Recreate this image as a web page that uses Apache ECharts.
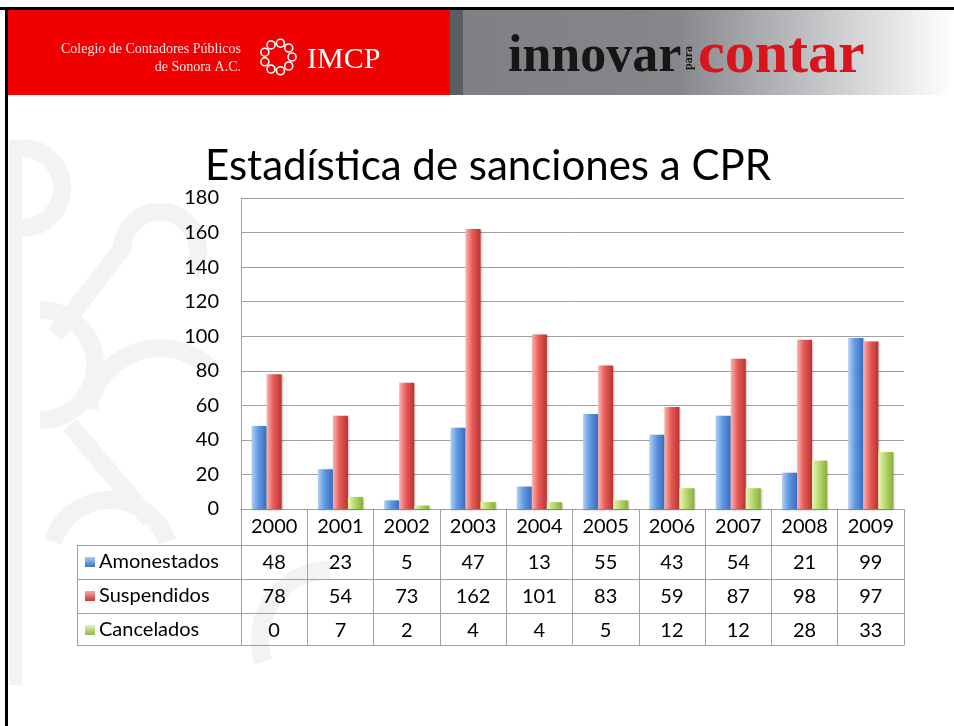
<!DOCTYPE html>
<html>
<head>
<meta charset="utf-8">
<script src="https://cdn.jsdelivr.net/npm/echarts@6/dist/echarts.min.js"></script>
<style>
html,body{margin:0;padding:0;background:#fff;}
#main{width:954px;height:726px;}
</style>
</head>
<body>
<div id="main"></div>
<script>
var years = ['2000','2001','2002','2003','2004','2005','2006','2007','2008','2009'];
var amonestados = [48, 23, 5, 47, 13, 55, 43, 54, 21, 99];
var suspendidos = [78, 54, 73, 162, 101, 83, 59, 87, 98, 97];
var cancelados = [0, 7, 2, 4, 4, 5, 12, 12, 28, 33];
var seriesNames = ['Amonestados', 'Suspendidos', 'Cancelados'];
var yTicks = {min: 0, max: 180, interval: 20};

var chart = echarts.init(document.getElementById('main'));
var FONT = 'Lato';
var GRID = '#a0a0a0';

function hgrad(c1, c2, c3) {
  return new echarts.graphic.LinearGradient(0, 0, 1, 0, [
    {offset: 0, color: c1}, {offset: 0.45, color: c2}, {offset: 1, color: c3}
  ]);
}
var colors = [
  hgrad('#aed0f7', '#5f98e0', '#3a6cc0'),
  hgrad('#fab4b2', '#e85a56', '#b83431'),
  hgrad('#eaf7b8', '#b8d96c', '#8aae3e')
];

function rowAxis(values, offset) {
  return {
    type: 'category', gridIndex: 0, position: 'bottom', offset: offset,
    data: values.map(String),
    axisLine: {show: true, lineStyle: {color: GRID, width: 1}},
    axisTick: {show: false},
    axisLabel: {show: true, interval: 0, margin: 8, fontFamily: FONT, fontSize: 20, color: '#000'},
    splitLine: {show: false}
  };
}

var seriesList = [amonestados, suspendidos, cancelados].map(function (d, i) {
  return {
    name: seriesNames[i], type: 'bar', xAxisIndex: 0, yAxisIndex: 0,
    data: d, barWidth: 15, barGap: '0%',
    itemStyle: {color: colors[i], shadowColor: 'rgba(0,0,0,0.25)', shadowBlur: 2, shadowOffsetX: 1, shadowOffsetY: 1},
    silent: true
  };
});

// watermark, header, table label column
var wm = '#f3f3f3';
var W = 18;
var graphics = [
  // watermark shapes
  {type: 'rect', z: -10, shape: {x: 9, y: 140, width: 13, height: 545}, style: {fill: wm}},
  {type: 'arc', z: -10, shape: {cx: 22, cy: 188, r: 40, startAngle: -Math.PI/2, endAngle: Math.PI/2}, style: {stroke: wm, lineWidth: W, fill: null}},
  {type: 'arc', z: -10, shape: {cx: 40, cy: 365, r: 55, startAngle: -Math.PI/2, endAngle: Math.PI/2}, style: {stroke: wm, lineWidth: W, fill: null}},
  {type: 'arc', z: -10, shape: {cx: 160, cy: 250, r: 38, startAngle: Math.PI, endAngle: Math.PI*2.2}, style: {stroke: wm, lineWidth: W, fill: null}},
  {type: 'line', z: -10, shape: {x1: 125, y1: 245, x2: 55, y2: 335}, style: {stroke: wm, lineWidth: W}},
  {type: 'line', z: -10, shape: {x1: 70, y1: 425, x2: 150, y2: 520}, style: {stroke: wm, lineWidth: W}},
  {type: 'arc', z: -10, shape: {cx: 160, cy: 420, r: 72, startAngle: Math.PI*1.05, endAngle: Math.PI*1.75}, style: {stroke: wm, lineWidth: W, fill: null}},
  {type: 'arc', z: -10, shape: {cx: 110, cy: 560, r: 60, startAngle: Math.PI*1.1, endAngle: Math.PI*1.9}, style: {stroke: wm, lineWidth: W, fill: null}},
  {type: 'arc', z: -10, shape: {cx: 330, cy: 640, r: 70, startAngle: Math.PI*0.9, endAngle: Math.PI*1.5}, style: {stroke: wm, lineWidth: W, fill: null}},
  // borders
  {type: 'rect', shape: {x: 0, y: 7, width: 954, height: 3}, style: {fill: '#000'}},
  {type: 'rect', shape: {x: 5, y: 7, width: 3, height: 719}, style: {fill: '#000'}},
  // header
  {type: 'rect', shape: {x: 8, y: 10, width: 442, height: 85}, style: {fill: '#f00000'}},
  {type: 'rect', shape: {x: 450, y: 10, width: 504, height: 85}, style: {fill: new echarts.graphic.LinearGradient(0, 0, 1, 0, [
    {offset: 0, color: '#5b5e62'}, {offset: 0.025, color: '#5b5e62'}, {offset: 0.026, color: '#7e8084'},
    {offset: 0.45, color: '#85878b'}, {offset: 0.75, color: '#c8c9cb'}, {offset: 1, color: '#ffffff'}])}},
  {type: 'text', style: {x: 241, y: 49, text: 'Colegio de Contadores Públicos', align: 'right', verticalAlign: 'middle', font: '14px "Liberation Serif"', fill: '#fbe3e3'}},
  {type: 'text', style: {x: 241, y: 67, text: 'de Sonora A.C.', align: 'right', verticalAlign: 'middle', font: '14px "Liberation Serif"', fill: '#fbe3e3'}},
  {type: 'text', style: {x: 307, y: 60, text: 'IMCP', align: 'left', verticalAlign: 'middle', font: '30px "Liberation Serif"', fill: '#ffffff'}},
  {type: 'text', style: {x: 508, y: 84, text: 'innovar', align: 'left', verticalAlign: 'bottom', font: 'bold 52px "Liberation Serif"', fill: '#161616'}},
  {type: 'text', rotation: Math.PI/2, x: 689, y: 58, style: {x: 0, y: 0, text: 'para', align: 'center', verticalAlign: 'middle', font: 'bold 12px "Liberation Serif"', fill: '#161616'}},
  {type: 'text', style: {x: 698, y: 86, text: 'contar', align: 'left', verticalAlign: 'bottom', font: 'bold 60px "Liberation Serif"', fill: '#d8141c'}},
  // title
  {type: 'text', style: {x: 488, y: 166, text: 'Estadística de sanciones a CPR', align: 'center', verticalAlign: 'middle', font: '42px Lato', fill: '#000'}},
  // table label column
  {type: 'line', shape: {x1: 77, y1: 545.5, x2: 241, y2: 545.5}, style: {stroke: GRID, lineWidth: 1}},
  {type: 'line', shape: {x1: 77, y1: 579.5, x2: 241, y2: 579.5}, style: {stroke: GRID, lineWidth: 1}},
  {type: 'line', shape: {x1: 77, y1: 613.5, x2: 241, y2: 613.5}, style: {stroke: GRID, lineWidth: 1}},
  {type: 'line', shape: {x1: 77, y1: 645.5, x2: 241, y2: 645.5}, style: {stroke: GRID, lineWidth: 1}},
  {type: 'line', shape: {x1: 77.5, y1: 545, x2: 77.5, y2: 646}, style: {stroke: GRID, lineWidth: 1}}
];
// logo ring
for (var k = 0; k < 9; k++) {
  var a = k / 9 * Math.PI * 2;
  graphics.push({type: 'circle', shape: {cx: 278 + Math.cos(a) * 14, cy: 57 + Math.sin(a) * 14, r: 4}, style: {stroke: '#fff', lineWidth: 1.6, fill: null}});
}
var rowY = [562, 596, 630];
seriesNames.forEach(function (n, i) {
  graphics.push({type: 'rect', shape: {x: 85, y: rowY[i] - 5, width: 10, height: 10}, style: {fill: new echarts.graphic.LinearGradient(0, 0, 0, 1, [
    {offset: 0, color: i === 0 ? '#a9cbf3' : i === 1 ? '#f7aaa8' : '#e6f5b3'},
    {offset: 1, color: i === 0 ? '#3f72c4' : i === 1 ? '#c23a37' : '#93b545'}])}});
  graphics.push({type: 'text', style: {x: 99, y: rowY[i], text: n, align: 'left', verticalAlign: 'middle', font: '20px Lato', fill: '#000'}});
});

chart.setOption({
  animation: false,
  backgroundColor: '#ffffff',
  grid: {left: 241, right: 50, top: 198, bottom: 217, containLabel: false},
  xAxis: [
    {
      type: 'category', gridIndex: 0, position: 'bottom', data: years,
      axisLine: {show: true, lineStyle: {color: GRID, width: 1}},
      axisTick: {show: true, length: 136, interval: 0, alignWithLabel: false, lineStyle: {color: GRID, width: 1}},
      axisLabel: {interval: 0, margin: 8, fontFamily: FONT, fontSize: 20, color: '#000'},
      splitLine: {show: false}
    },
    rowAxis(amonestados, 36),
    rowAxis(suspendidos, 70),
    rowAxis(cancelados, 104),
    {
      type: 'category', gridIndex: 0, position: 'bottom', offset: 136, data: years,
      axisLine: {show: true, lineStyle: {color: GRID, width: 1}},
      axisTick: {show: false}, axisLabel: {show: false}, splitLine: {show: false}
    }
  ],
  yAxis: {
    type: 'value', min: yTicks.min, max: yTicks.max, interval: yTicks.interval,
    axisLine: {show: true, lineStyle: {color: GRID, width: 1}},
    axisTick: {show: false},
    axisLabel: {margin: 22, fontFamily: FONT, fontSize: 20, color: '#000'},
    splitLine: {show: true, lineStyle: {color: GRID, width: 1}}
  },
  series: seriesList,
  graphic: graphics
});
</script>
</body>
</html>
